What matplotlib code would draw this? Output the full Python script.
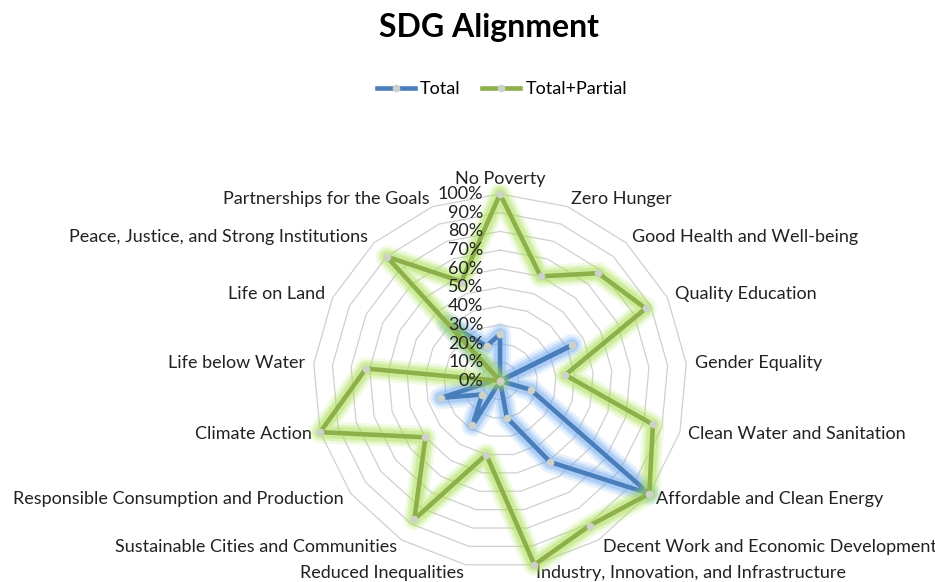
import numpy as np
import matplotlib.pyplot as plt
from matplotlib.lines import Line2D

plt.rcParams['font.family'] = ['Lato', 'DejaVu Sans']

goals = ['No Poverty', 'Zero Hunger', 'Good Health and Well-being', 'Quality Education',
         'Gender Equality', 'Clean Water and Sanitation', 'Affordable and Clean Energy',
         'Decent Work and Economic Development', 'Industry, Innovation, and Infrastructure',
         'Reduced Inequalities', 'Sustainable Cities and Communities',
         'Responsible Consumption and Production', 'Climate Action', 'Life below Water',
         'Life on Land', 'Peace, Justice, and Strong Institutions', 'Partnerships for the Goals']
total = [0.25, 0.0, 0.0, 0.43, 0.0, 0.17, 1.0, 0.51, 0.20, 0.0,
         0.28, 0.12, 0.33, 0.03, 0.0, 0.42, 0.20]
total_partial = [1.0, 0.60, 0.78, 0.87, 0.35, 0.85, 1.0, 0.91, 1.0, 0.40,
                 0.87, 0.50, 1.0, 0.72, 0.0, 0.90, 0.57]
rings = [i / 10 for i in range(11)]

BLUE = '#4A7EBB'
GREEN = '#8DB04A'
BLUE_GLOW = '#6FA8F0'
GREEN_GLOW = '#A8E050'

n = len(goals)
theta = np.linspace(0, 2 * np.pi, n, endpoint=False)
th_c = np.append(theta, theta[0])

fig = plt.figure(figsize=(9.35, 5.82), dpi=100)
ax = fig.add_axes([0.3348, 0.0241, 0.4, 0.6426], projection='polar')
ax.set_theta_zero_location('N')
ax.set_theta_direction(-1)
ax.set_ylim(0, 1)
ax.grid(False)
ax.spines['polar'].set_visible(False)
ax.set_xticks([])
ax.set_yticks([])
ax.patch.set_alpha(0)

for r in rings[1:]:
    ax.plot(th_c, [r] * (n + 1), color='#D0D0D0', lw=0.9, zorder=1, clip_on=False)


def glow_line(vals, color, glow, z):
    v = np.append(vals, vals[0])
    for w, a in [(16, 0.16), (12, 0.24), (8.5, 0.34)]:
        ax.plot(th_c, v, color=glow, lw=w, alpha=a, solid_joinstyle='round',
                solid_capstyle='round', zorder=z, clip_on=False)
    ax.plot(th_c, v, color=color, lw=3.3, zorder=z + 1, clip_on=False,
            marker='o', ms=5.5, mfc='#CDD1C8', mec='none')


glow_line(total, BLUE, BLUE_GLOW, 2)
glow_line(total_partial, GREEN, GREEN_GLOW, 4)

# radial labels along the top spoke
for r in rings:
    ax.annotate(f'{int(round(r * 100))}%', xy=(0, r), xytext=(-12, 0),
                textcoords='offset points', ha='right', va='center',
                fontsize=13, color='#222222', zorder=6)

# category labels
for t, name in zip(theta, goals):
    s = np.sin(t)
    if abs(s) < 1e-6:
        ha, va, rr = 'center', 'bottom', 1.035
    else:
        ha, va, rr = ('left' if s > 0 else 'right'), 'center', 1.045
    ax.text(t, rr, name, ha=ha, va=va, fontsize=13, color='#222222')

fig.text(0.523, 0.952, 'SDG Alignment', ha='center', va='center',
         fontsize=23, fontweight='bold', color='#000000')

handles = [Line2D([], [], color=BLUE, lw=3.3, marker='o', ms=5.5, mfc='#CDD1C8', mec='none'),
           Line2D([], [], color=GREEN, lw=3.3, marker='o', ms=5.5, mfc='#CDD1C8', mec='none')]
fig.legend(handles, ['Total', 'Total+Partial'], loc='center', bbox_to_anchor=(0.537, 0.847),
           ncol=2, frameon=False, fontsize=13, handlelength=2.1, handletextpad=0.3,
           columnspacing=1.2)

fig.savefig('out.png', dpi=100)
